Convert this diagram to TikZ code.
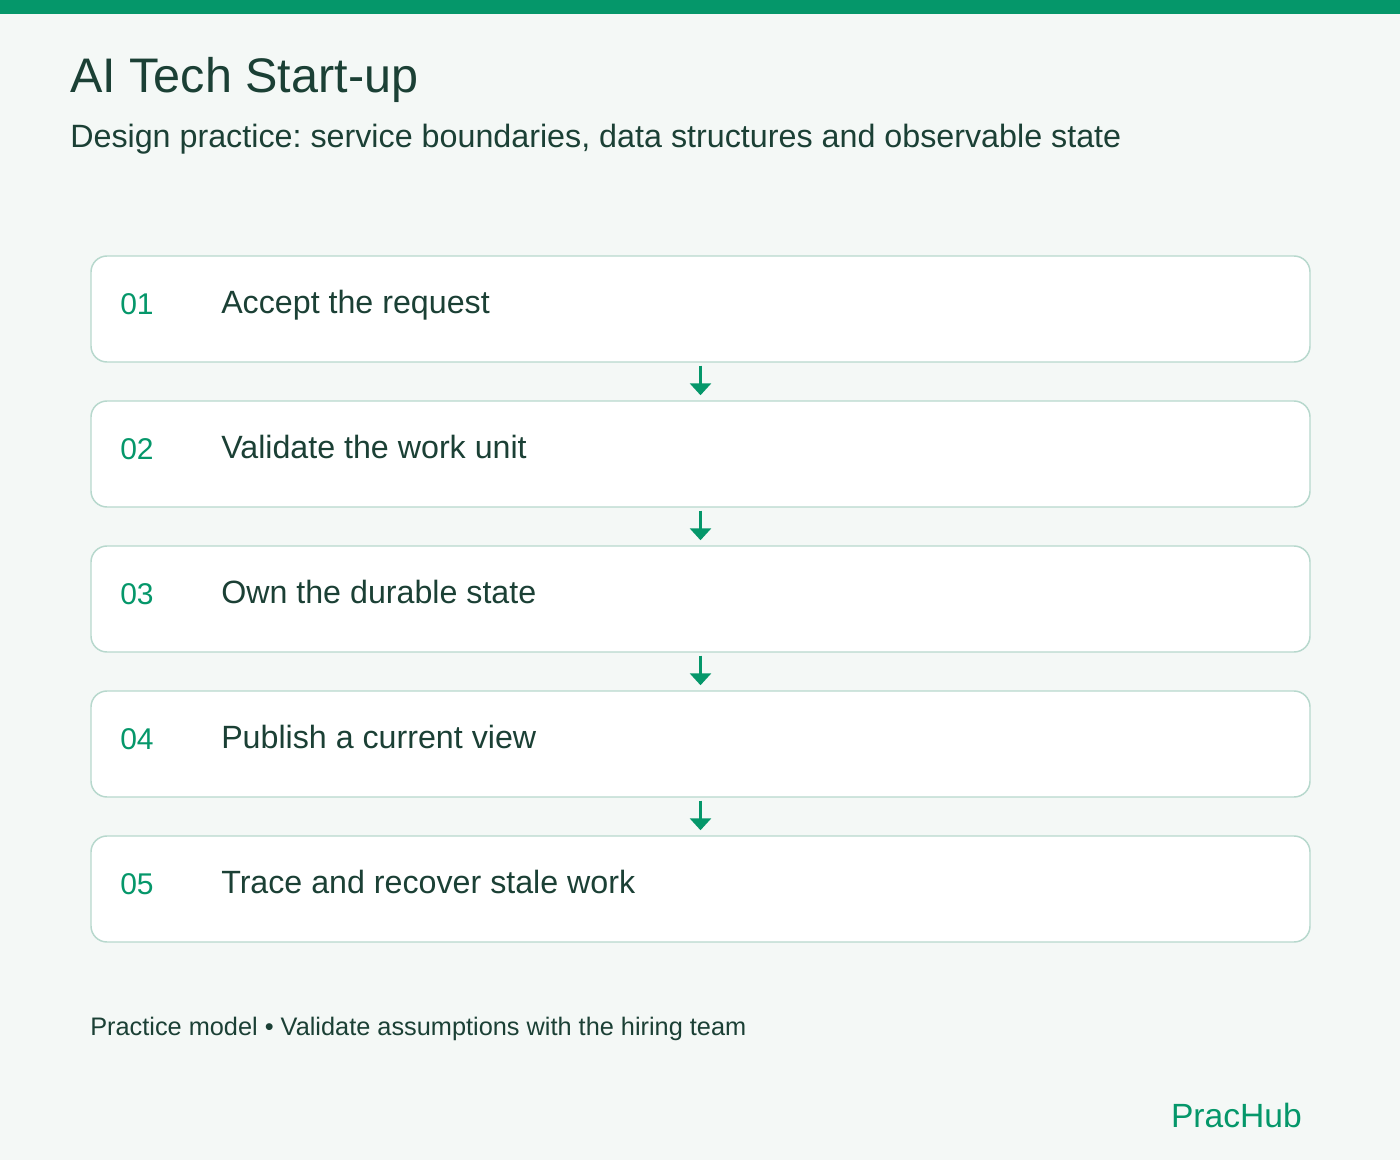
\documentclass[tikz,border=0pt]{standalone}
\usepackage{fontspec}
\setmainfont{Liberation Sans}
\usepackage{tikz}
\usetikzlibrary{arrows.meta}
\definecolor{pageBg}{HTML}{F4F8F6}
\definecolor{barGreen}{HTML}{05976A}
\definecolor{inkDark}{HTML}{1B4035}
\definecolor{boxLine}{HTML}{B7D8CD}
\frenchspacing
\begin{document}
\begin{tikzpicture}[x=0.75pt,y=0.75pt,yscale=-1,xscale=1,
  stepBox/.style={draw=boxLine, line width=1.1pt, fill=white, rounded corners=12pt,
    minimum width=914.25pt, minimum height=79.5pt, inner sep=0pt},
  stepNum/.style={anchor=base west, text=barGreen, font=\fontsize{22.5}{27}\selectfont, inner sep=0pt},
  stepText/.style={anchor=base west, text=inkDark, font=\fontsize{24.15}{29}\selectfont, inner sep=0pt},
  flowArrow/.style={draw=barGreen, line width=2.25pt, -{Triangle[width=15.75pt,length=9pt]},
    shorten <=2.25pt, shorten >=3.75pt}]
%set diagram to the page size
\useasboundingbox (0,0) rectangle (1400,1160);
\fill [pageBg] (0,0) rectangle (1400,1160);
\fill [barGreen] (0,0) rectangle (1400,14);

% Title
\node [anchor=base west, text=inkDark, font=\fontsize{36.4}{43}\selectfont, inner sep=0pt] (title) at (70,92) {AI Tech Start-up};
% Subtitle
\node [anchor=base west, text=inkDark, font=\fontsize{24.2}{29}\selectfont, inner sep=0pt] (subtitle) at (70,147) {Design practice: service boundaries, data structures and observable state};

% Step 1
\node [stepBox] (box1) at (700.5,309) {};
\node [stepNum] (num1) at (120,314) {01};
\node [stepText] (lbl1) at (221,313) {Accept the request};
% Step 2
\node [stepBox] (box2) at (700.5,454) {};
\node [stepNum] (num2) at (120,459) {02};
\node [stepText] (lbl2) at (221,458) {Validate the work unit};
% Step 3
\node [stepBox] (box3) at (700.5,599) {};
\node [stepNum] (num3) at (120,604) {03};
\node [stepText] (lbl3) at (221,603) {Own the durable state};
% Step 4
\node [stepBox] (box4) at (700.5,744) {};
\node [stepNum] (num4) at (120,749) {04};
\node [stepText] (lbl4) at (221,748) {Publish a current view};
% Step 5
\node [stepBox] (box5) at (700.5,889) {};
\node [stepNum] (num5) at (120,894) {05};
\node [stepText] (lbl5) at (221,893) {Trace and recover stale work};

% Connection
\draw [flowArrow] (box1.south) -- (box2.north);
% Connection
\draw [flowArrow] (box2.south) -- (box3.north);
% Connection
\draw [flowArrow] (box3.south) -- (box4.north);
% Connection
\draw [flowArrow] (box4.south) -- (box5.north);

% Footer
\node [anchor=base west, text=inkDark, font=\fontsize{19}{23}\selectfont, inner sep=0pt] (footer) at (90,1035) {Practice model • Validate assumptions with the hiring team};
\node [anchor=base east, text=barGreen, font=\fontsize{25.2}{30}\selectfont, inner sep=0pt] (brand) at (1302,1127) {PracHub};

\end{tikzpicture}
\end{document}
